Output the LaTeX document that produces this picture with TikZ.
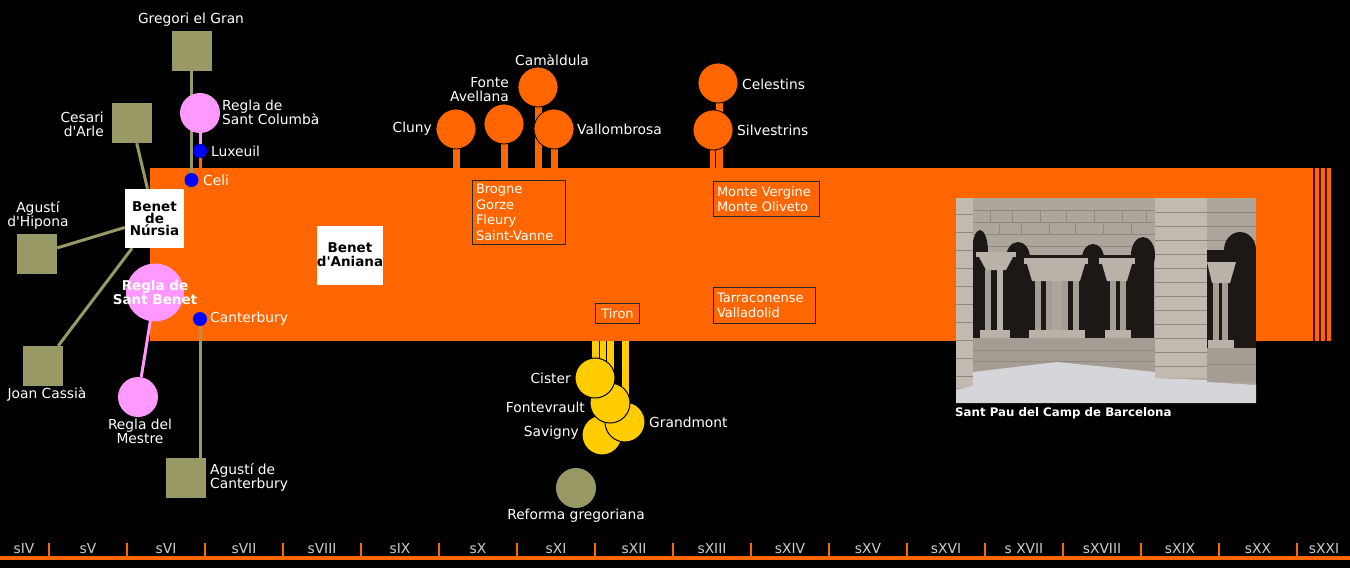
\documentclass[tikz,border=0pt]{standalone}
\usepackage{fontspec}
\setmainfont{DejaVu Sans}[Ligatures=TeXOff]
\usetikzlibrary{calc}
\definecolor{orng}{HTML}{FF6600}
\definecolor{olv}{HTML}{999966}
\definecolor{pnk}{HTML}{FF99FF}
\definecolor{blu}{HTML}{0000FF}
\definecolor{yel}{HTML}{FFCC00}
\definecolor{gapc}{HTML}{4A1200}
\definecolor{tlc}{HTML}{CCCCCC}
\definecolor{stoneA}{HTML}{ACA69C}
\definecolor{stoneB}{HTML}{A39D93}
\definecolor{stoneC}{HTML}{B8B2A8}
\definecolor{stoneD}{HTML}{C0BAB0}
\definecolor{mortar}{HTML}{8E887E}
\definecolor{darkop}{HTML}{1C1816}
\definecolor{gravel}{HTML}{D6D6DA}
\newcommand{\lblfont}{\fontsize{13.8}{14}\selectfont}
\newcommand{\boxfont}{\fontsize{13}{15.5}\selectfont}
\pgfdeclarelayer{back}
\pgfdeclarelayer{stems}
\pgfdeclarelayer{barl}
\pgfdeclarelayer{lines}
\pgfsetlayers{back,stems,barl,lines,main}
\begin{document}
\begin{tikzpicture}[x=1pt,y=-1pt,
  lbl/.style={text=white, inner sep=0pt, font=\lblfont, align=center},
  sq/.style={fill=olv, minimum size=40pt, inner sep=0pt},
  pcirc/.style={circle, fill=pnk, minimum size=40pt, inner sep=0pt},
  dot/.style={circle, fill=blu, minimum size=14pt, inner sep=0pt},
  wbox/.style={fill=white, text=black, minimum size=59pt, inner sep=0pt, align=center},
  otree/.style={circle, fill=orng, draw=black, line width=0.8pt, minimum size=40pt, inner sep=0pt},
  ytree/.style={circle, fill=yel, draw=black, line width=1pt, minimum size=40pt, inner sep=0pt},
  ostem/.style={fill=orng, draw=black, line width=0.8pt},
  ystem/.style={fill=yel, draw=black, line width=0.8pt},
  ibox/.style={draw=black!85, line width=1pt, text=white, font=\boxfont, anchor=north west, inner xsep=3.5pt, inner ysep=0pt, align=left},
  oln/.style={draw=olv, line width=3pt},
  pln/.style={draw=pnk, line width=3pt},
  tlab/.style={text=tlc, inner sep=0pt, font=\lblfont}
]
\begin{pgfonlayer}{back}
\fill[black] (0,0) rectangle (1350,568);
\end{pgfonlayer}
\useasboundingbox (0,0) rectangle (1350,568);
\coordinate (bartop) at (0,168);
\coordinate (barbot) at (0,341);

% ---------- bar ----------
\begin{pgfonlayer}{barl}
\fill[orng] (150,168) rectangle (1312.5,341);
\fill[gapc] (1312.5,168) rectangle (1331,341);
\foreach \x in {1315,1321,1327} \fill[orng] (\x,168) rectangle (\x+4,341);
\end{pgfonlayer}

% ---------- left cluster ----------
\node[sq] (gregori) at (191.5,51) {};
\node[lbl] (gregoril) at (191,20) {Gregori el Gran};
\node[pcirc] (columba) at (200,113) {};
\node[lbl, anchor=west, align=left] (columbal) at (222,112) {Regla de\\Sant Columbà};
\node[dot] (luxeuil) at (200,151) {};
\node[lbl, anchor=west] (luxeuill) at (211,151) {Luxeuil};
\node[dot] (celi) at (191.5,180) {};
\node[lbl, anchor=west] (celil) at (203,180) {Celi};
\node[sq] (cesari) at (132,123) {};
\node[lbl, anchor=east, align=right] (cesaril) at (104,124) {Cesari\\d'Arle};
\node[wbox, font=\bfseries\fontsize{13.5}{12}\selectfont] (benetn) at (154.5,218.5) {Benet\\de\\Núrsia};
\node[sq] (agustih) at (37,254) {};
\node[lbl] (agustihl) at (38,215) {Agustí\\d'Hipona};
\node[circle, fill=pnk, minimum size=58pt, inner sep=0pt] (reglab) at (155,292.5) {};
\node[text=white, inner sep=0pt, align=center, font=\bfseries\fontsize{13.5}{14}\selectfont] (reglabl) at (155,292) {Regla de\\Sant Benet};
\node[dot] (canterbury) at (200,319) {};
\node[lbl, anchor=west] (canterburyl) at (210,319) {Canterbury};
\node[sq] (joan) at (43,366) {};
\node[lbl] (joanl) at (47,394) {Joan Cassià};
\node[pcirc] (mestre) at (138,397) {};
\node[lbl] (mestrel) at (140,431) {Regla del\\Mestre};
\node[sq] (agustic) at (185.5,478) {};
\node[lbl, anchor=west, align=left] (agusticl) at (210,477) {Agustí de\\Canterbury};
\node[wbox, font=\bfseries\fontsize{13.5}{14}\selectfont] (aniana) at (350,255) {Benet\\d'Aniana};

\begin{pgfonlayer}{lines}
\draw[oln] (gregori) -- (celi);
\draw[pln] (columba) -- (luxeuil);
\draw[draw=orng, line width=3pt] (luxeuil) -- (luxeuil |- bartop);
\draw[oln] (cesari) -- (benetn);
\draw[oln] (agustih) -- (benetn);
\draw[oln] (joan) -- (benetn);
\draw[pln] (reglab) -- (mestre);
\draw[oln] (canterbury) -- (canterbury |- agustic.north);
\end{pgfonlayer}

% ---------- orange trees ----------
\node[otree] (cluny) at (456,129) {};
\node[otree] (fonte) at (504,124) {};
\node[otree] (camaldula) at (538,87) {};
\node[otree] (vallombrosa) at (554,129) {};
\node[otree] (celestins) at (718,83) {};
\node[otree] (silvestrins) at (713,130) {};
\node[lbl, anchor=east] (clunyl) at (432,129) {Cluny};
\node[lbl, anchor=east, align=right] (fontel) at (509,90) {Fonte\\Avellana};
\node[lbl] (camaldulal) at (552,60) {Camàldula};
\node[lbl, anchor=west] (vallombrosal) at (577,129) {Vallombrosa};
\node[lbl, anchor=west] (celestinsl) at (742,84) {Celestins};
\node[lbl, anchor=west] (silvestrinsl) at (737,130) {Silvestrins};

\begin{pgfonlayer}{stems}
\foreach \n in {cluny,fonte,camaldula,vallombrosa,silvestrins}
  \filldraw[ostem] ($(\n.center)+(-4,0)$) rectangle ($(\n.center |- bartop)+(4,6)$);
\filldraw[ostem] ($(celestins.center)+(-2.5,0)$) rectangle ($(celestins.center |- bartop)+(5.5,6)$);
\end{pgfonlayer}

% ---------- boxes in the bar ----------
\node[ibox, minimum width=93pt, minimum height=64pt, text width=86pt] (brogne) at (472,180) {Brogne\\Gorze\\Fleury\\Saint-Vanne};
\node[ibox, minimum width=106pt, minimum height=35pt, text width=99pt] (monte) at (713,181) {Monte Vergine\\Monte Oliveto};
\node[ibox, minimum width=102pt, minimum height=36pt, text width=95pt] (tarra) at (713,287) {Tarraconense\\Valladolid};
\node[ibox, minimum width=44pt, minimum height=20pt, text width=37pt, align=center] (tiron) at (595,303) {Tiron};

% ---------- yellow trees ----------
\node[ytree] (savigny) at (602,435) {};
\node[ytree] (grandmont) at (625,422) {};
\node[ytree] (fontevrault) at (610,403) {};
\node[ytree] (cister) at (595,378) {};
\begin{pgfonlayer}{stems}
\foreach \n in {grandmont,fontevrault,savigny,cister}
  \filldraw[ystem] ($(\n.center |- barbot)+(-4,-6)$) rectangle ($(\n.center)+(4,0)$);
\end{pgfonlayer}
\node[lbl, anchor=east] (cisterl) at (571,378) {Cister};
\node[lbl, anchor=east] (fontevraultl) at (585,407) {Fontevrault};
\node[lbl, anchor=east] (savignyl) at (579,433) {Savigny};
\node[lbl, anchor=west] (grandmontl) at (649,422) {Grandmont};
\node[circle, fill=olv, minimum size=40pt, inner sep=0pt] (reforma) at (576,488) {};
\node[lbl] (reformal) at (576,516) {Reforma gregoriana};

% ---------- photo (stylised) ----------
\begin{scope}
\clip (956,198) rectangle (1256,403);
\fill[stoneA] (956,198) rectangle (1256,403);
\foreach \y in {210,222,234,246} \draw[mortar, line width=0.6pt] (973,\y) -- (1155,\y);
\foreach \y in {212,226,240} \draw[mortar, line width=0.6pt] (1207,\y) -- (1256,\y);
\foreach \x in {990,1012,1040,1066,1094,1122,1146} \draw[mortar, line width=0.6pt] (\x,210) -- (\x,222) (\x+9,222) -- (\x+9,234);
% dark openings
\fill[darkop] (973,255) rectangle (1154,338);
\fill[darkop] (1018,258) ellipse [x radius=12pt, y radius=16pt];
\fill[darkop] (1093,258) ellipse [x radius=11pt, y radius=14pt];
\fill[darkop] (1143,255) ellipse [x radius=12pt, y radius=18pt];
\fill[darkop] (980,252) ellipse [x radius=8pt, y radius=22pt];
\fill[darkop] (1207,250) rectangle (1256,348);
\fill[darkop] (1240,250) ellipse [x radius=16pt, y radius=18pt];
% column group A
\fill[stoneC] (976,252) rectangle (1016,257);
\fill[stoneC] (979,257) -- (1013,257) -- (1006,270) -- (986,270) -- cycle;
\fill[stoneB] (985,270) rectangle (991,333);
\fill[stoneC] (997,270) rectangle (1003,333);
\fill[stoneC] (980,330) rectangle (1010,340);
% column group B
\fill[stoneC] (1024,258) rectangle (1088,264);
\fill[stoneC] (1027,264) -- (1085,264) -- (1080,281) -- (1032,281) -- cycle;
\foreach \x in {1035,1046,1062,1073} \fill[stoneB] (\x,281) rectangle (\x+6,333);
\fill[stoneA] (1052,281) rectangle (1062,333);
\fill[stoneC] (1029,330) rectangle (1085,340);
% column group C
\fill[stoneC] (1099,258) rectangle (1135,264);
\fill[stoneC] (1102,264) -- (1132,264) -- (1127,281) -- (1107,281) -- cycle;
\foreach \x in {1110,1120} \fill[stoneB] (\x,281) rectangle (\x+6,333);
\fill[stoneC] (1105,330) rectangle (1131,340);
% column group D
\fill[stoneC] (1207,262) -- (1236,262) -- (1230,283) -- (1212,283) -- cycle;
\foreach \x in {1213,1222} \fill[stoneB] (\x,283) rectangle (\x+6,342);
\fill[stoneC] (1208,340) rectangle (1234,350);
% parapets
\fill[stoneB] (973,338) rectangle (1155,372);
\foreach \y in {350,361} \draw[mortar, line width=0.6pt] (973,\y) -- (1155,\y);
\fill[stoneB] (1207,348) rectangle (1256,382);
\draw[mortar, line width=0.6pt] (1207,364) -- (1256,364);
% piers
\fill[stoneD] (1155,198) rectangle (1207,378);
\foreach \y in {212,226,240,254,268,282,296,310,324,338,352,366} \draw[mortar, line width=0.6pt] (1155,\y) -- (1207,\y);
\fill[stoneD] (956,198) rectangle (973,388);
\foreach \y in {214,232,250,268,286,304,322,340,358,376} \draw[mortar, line width=0.6pt] (956,\y) -- (973,\y);
% gravel
\fill[gravel] (956,403) -- (956,390) -- (973,386) -- (973,372) -- (1057,362) -- (1155,372) -- (1155,378) -- (1207,380) -- (1207,382) -- (1256,385) -- (1256,403) -- cycle;
\end{scope}
\node[text=white, inner sep=0pt, anchor=west, font=\bfseries\fontsize{11.8}{13}\selectfont] (caption) at (955,413) {Sant Pau del Camp de Barcelona};

% ---------- timeline ----------
\foreach \i in {0,...,16} \fill[orng] ({49+78*\i-1.2},543) rectangle ({49+78*\i+1.2},557);
\fill[orng] (0,556) rectangle (1350,560);
\foreach \x/\t [count=\k] in {24/sIV,88/sV,166/sVI,244/sVII,322/sVIII,400/sIX,478/sX,556/sXI,634/sXII,712/sXIII,790/sXIV,868/sXV,946/sXVI,1024/s XVII,1102/sXVIII,1180/sXIX,1258/sXX,1324/sXXI}
  \node[tlab] (t\k) at (\x,549) {\t};
\end{tikzpicture}
\end{document}
